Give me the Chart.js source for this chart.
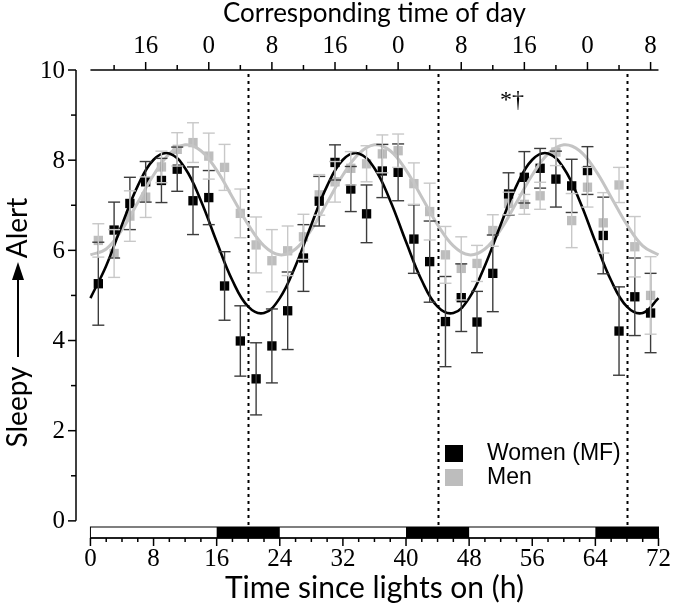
<!DOCTYPE html>
<html>
<head>
<meta charset="utf-8">
<script src="https://cdn.jsdelivr.net/npm/chart.js"></script>
<style>
  html, body { margin: 0; padding: 0; background: #fff; }
</style>
</head>
<body>
<canvas id="chart" width="673" height="608"></canvas>
<script>
// measurement times (h since lights on)
const hours = [1, 3, 5, 7, 9, 11, 13, 15, 17, 19, 21, 23, 25, 27, 29, 31, 33, 35,
               37, 39, 41, 43, 45, 47, 49, 51, 53, 55, 57, 59, 61, 63, 65, 67, 69, 71];

const womenMean = [5.26, 6.45, 7.04, 7.52, 7.55, 7.80, 7.10, 7.17, 5.21, 3.99, 3.15, 3.88,
                   4.66, 5.83, 7.09, 7.95, 7.36, 6.81, 7.76, 7.73, 6.25, 5.75, 4.42, 4.95,
                   4.41, 5.49, 7.25, 7.62, 7.82, 7.58, 7.43, 7.77, 6.33, 4.21, 4.97, 4.61];
const womenErr  = [0.92, 0.62, 0.58, 0.45, 0.49, 0.49, 0.75, 0.60, 0.76, 0.78, 0.80, 0.82,
                   0.86, 0.74, 0.55, 0.39, 0.50, 0.64, 0.59, 0.63, 0.76, 0.90, 1.00, 0.75,
                   0.68, 0.85, 0.47, 0.57, 0.44, 0.62, 0.59, 0.53, 0.85, 0.98, 0.86, 0.88];

const menMean = [6.22, 5.93, 6.76, 7.18, 7.85, 8.24, 8.39, 8.09, 7.84, 6.82, 6.12, 5.77,
                 5.99, 6.30, 7.23, 7.52, 7.82, 7.92, 8.14, 8.21, 7.48, 6.86, 5.90, 5.60,
                 5.71, 6.44, 7.04, 7.02, 7.21, 8.18, 6.66, 7.40, 6.61, 7.45, 6.08, 5.00];
const menErr  = [0.37, 0.53, 0.56, 0.45, 0.35, 0.37, 0.44, 0.51, 0.51, 0.54, 0.62, 0.69,
                 0.55, 0.50, 0.45, 0.45, 0.37, 0.40, 0.42, 0.37, 0.46, 0.63, 0.63, 0.70,
                 0.40, 0.35, 0.25, 0.22, 0.30, 0.30, 0.60, 0.44, 0.67, 0.39, 0.67, 0.86];

const fitHours = [0, 2, 4, 6, 8, 10, 12, 14, 16, 18, 20, 22, 24, 26, 28, 30, 32, 34, 36,
                  38, 40, 42, 44, 46, 48, 50, 52, 54, 56, 58, 60, 62, 64, 66, 68, 70, 72];
const womenFit = [4.94, 5.66, 6.57, 7.43, 8.01, 8.15, 7.82, 7.10, 6.19, 5.33, 4.75, 4.61,
                  4.94, 5.66, 6.57, 7.43, 8.01, 8.15, 7.82, 7.10, 6.19, 5.33, 4.75, 4.61,
                  4.94, 5.66, 6.57, 7.43, 8.01, 8.15, 7.82, 7.10, 6.19, 5.33, 4.75, 4.61, 4.94];
const menFit = [5.90, 6.03, 6.46, 7.06, 7.67, 8.14, 8.34, 8.21, 7.78, 7.18, 6.57, 6.10,
                5.90, 6.03, 6.46, 7.06, 7.67, 8.14, 8.34, 8.21, 7.78, 7.18, 6.57, 6.10,
                5.90, 6.03, 6.46, 7.06, 7.67, 8.14, 8.34, 8.21, 7.78, 7.18, 6.57, 6.10, 5.90];

// axes and markers
const xTicks = [0, 8, 16, 24, 32, 40, 48, 56, 64, 72];
const yTicks = [0, 2, 4, 6, 8, 10];
const topTickHours = [7, 15, 23, 31, 39, 47, 55, 63, 71];
const topTickLabels = ['16', '0', '8', '16', '0', '8', '16', '0', '8'];
const dottedHours = [20, 44, 68];
const darkStart = [16, 40, 64];
const darkEnd = [24, 48, 72];

const BLACK = '#000000';
const GREY = '#bdbdbd';
const SERIF = '"Liberation Serif", "Times New Roman", serif';
const SANS = 'Lato, "Open Sans", sans-serif';

const toXY = (xs, ys) => xs.map((h, i) => ({ x: h, y: ys[i] }));

function line(ctx, x1, y1, x2, y2) {
    ctx.beginPath();
    ctx.moveTo(x1, y1);
    ctx.lineTo(x2, y2);
    ctx.stroke();
}

const decorations = {
    id: 'decorations',
    beforeDatasetsDraw(chart) {
        const { ctx, scales: { x, y }, chartArea } = chart;
        ctx.save();
        ctx.strokeStyle = '#000';
        ctx.lineWidth = 2;
        ctx.setLineDash([3, 4]);
        dottedHours.forEach(h => {
            const px = Math.round(x.getPixelForValue(h)) + 0.5;
            line(ctx, px, y.getPixelForValue(10) + 4, px, chartArea.bottom - 11);
        });
        ctx.restore();
    },
    afterDatasetsDraw(chart) {
        const { ctx, scales: { x, y } } = chart;
        const bars = [
            { mean: womenMean, err: womenErr, color: '#3c3c3c' },
            { mean: menMean, err: menErr, color: '#c8c8c8' }
        ];
        ctx.save();
        ctx.lineWidth = 1.4;
        bars.forEach(s => {
            ctx.strokeStyle = s.color;
            hours.forEach((h, i) => {
                const px = x.getPixelForValue(h);
                const top = y.getPixelForValue(s.mean[i] + s.err[i]);
                const bot = y.getPixelForValue(s.mean[i] - s.err[i]);
                line(ctx, px, top, px, bot);
                line(ctx, px - 6, top, px + 6, top);
                line(ctx, px - 6, bot, px + 6, bot);
            });
        });
        ctx.restore();
    },
    afterDraw(chart) {
        const { ctx, scales: { x, y }, chartArea } = chart;
        const x0 = x.getPixelForValue(0), x72 = x.getPixelForValue(72);
        ctx.save();
        ctx.strokeStyle = '#000';
        ctx.fillStyle = '#000';
        ctx.lineWidth = 1.5;

        // left axis
        const ax = chartArea.left;
        line(ctx, ax, y.getPixelForValue(0), ax, y.getPixelForValue(10));
        for (let v = 0; v <= 10; v++) {
            const py = y.getPixelForValue(v);
            line(ctx, ax - (v % 2 === 0 ? 8 : 5), py, ax, py);
        }
        ctx.font = '25px ' + SERIF;
        ctx.textAlign = 'right';
        ctx.textBaseline = 'middle';
        yTicks.forEach(v => ctx.fillText(String(v), ax - 11, y.getPixelForValue(v) + 1));

        // light / dark bar
        const by = chartArea.bottom;
        ctx.lineWidth = 1;
        ctx.strokeRect(x0, by - 11, x72 - x0, 11);
        darkStart.forEach((s, i) => {
            const a = x.getPixelForValue(s), b = x.getPixelForValue(darkEnd[i]);
            ctx.fillRect(a, by - 11, b - a, 11);
        });

        // bottom axis
        ctx.lineWidth = 1.5;
        line(ctx, x0, by, x72, by);
        for (let h = 0; h <= 72; h += 2) {
            const px = x.getPixelForValue(h);
            line(ctx, px, by, px, by + (h % 8 === 0 ? 8 : 4));
        }
        ctx.textAlign = 'center';
        xTicks.forEach(h => ctx.fillText(String(h), x.getPixelForValue(h), by + 21));

        // top axis
        const ty = y.getPixelForValue(10);
        line(ctx, x0, ty, x72, ty);
        topTickHours.forEach((h, i) => {
            const px = x.getPixelForValue(h);
            line(ctx, px, ty, px, ty - 8);
            const pm = x.getPixelForValue(h - 4);
            line(ctx, pm, ty, pm, ty - 5);
            ctx.fillText(topTickLabels[i], px, ty - 24);
        });

        // titles
        ctx.font = '26px ' + SANS;
        ctx.fillText('Corresponding time of day', (x0 + x72) / 2, 14);
        ctx.font = '30px ' + SANS;
        ctx.fillText('Time since lights on (h)', (x0 + x72) / 2, 588);

        // y title: Sleepy ---> Alert
        ctx.save();
        ctx.translate(18, 0);
        ctx.rotate(-Math.PI / 2);
        ctx.font = '28px ' + SANS;
        ctx.fillText('Sleepy', -407, 0);
        ctx.fillText('Alert', -228, 0);
        ctx.lineWidth = 2;
        line(ctx, -357, 0, -275, 0);
        ctx.beginPath();
        ctx.moveTo(-262, 0);
        ctx.lineTo(-280, -6);
        ctx.lineTo(-280, 6);
        ctx.closePath();
        ctx.fill();
        ctx.restore();

        // significance mark
        ctx.font = '24px ' + SERIF;
        ctx.fillText('*\u2020', 512, 101);

        // legend
        ctx.textAlign = 'left';
        ctx.font = '23px "Liberation Sans", Arial, sans-serif';
        ctx.fillStyle = BLACK;
        ctx.fillRect(445, 445, 18, 17);
        ctx.fillText('Women (MF)', 487, 454);
        ctx.fillStyle = GREY;
        ctx.fillRect(445, 469, 18, 17);
        ctx.fillStyle = BLACK;
        ctx.fillText('Men', 487, 478);
        ctx.restore();
    }
};

new Chart(document.getElementById('chart'), {
    type: 'scatter',
    data: {
        datasets: [
            {
                label: 'Women fit',
                data: toXY(fitHours, womenFit),
                showLine: true,
                borderColor: BLACK,
                borderWidth: 2.6,
                pointRadius: 0,
                tension: 0.4,
                order: 0
            },
            {
                label: 'Men fit',
                data: toXY(fitHours, menFit),
                showLine: true,
                borderColor: '#c4c4c4',
                borderWidth: 3,
                pointRadius: 0,
                tension: 0.4,
                order: 1
            },
            {
                label: 'Women (MF)',
                data: toXY(hours, womenMean),
                pointStyle: 'rect',
                pointRadius: 6.6,
                backgroundColor: BLACK,
                borderColor: BLACK,
                borderWidth: 0,
                order: 2
            },
            {
                label: 'Men',
                data: toXY(hours, menMean),
                pointStyle: 'rect',
                pointRadius: 6.6,
                backgroundColor: GREY,
                borderColor: GREY,
                borderWidth: 0,
                order: 3
            }
        ]
    },
    options: {
        responsive: false,
        animation: false,
        devicePixelRatio: 1,
        layout: { padding: { left: 76, top: 70, right: 9, bottom: 70 } },
        scales: {
            x: { type: 'linear', display: false, min: -1.83, max: 72.7 },
            y: { display: false, min: -0.38, max: 10 }
        },
        plugins: {
            legend: { display: false },
            tooltip: { enabled: false }
        }
    },
    plugins: [decorations]
});
</script>
</body>
</html>
